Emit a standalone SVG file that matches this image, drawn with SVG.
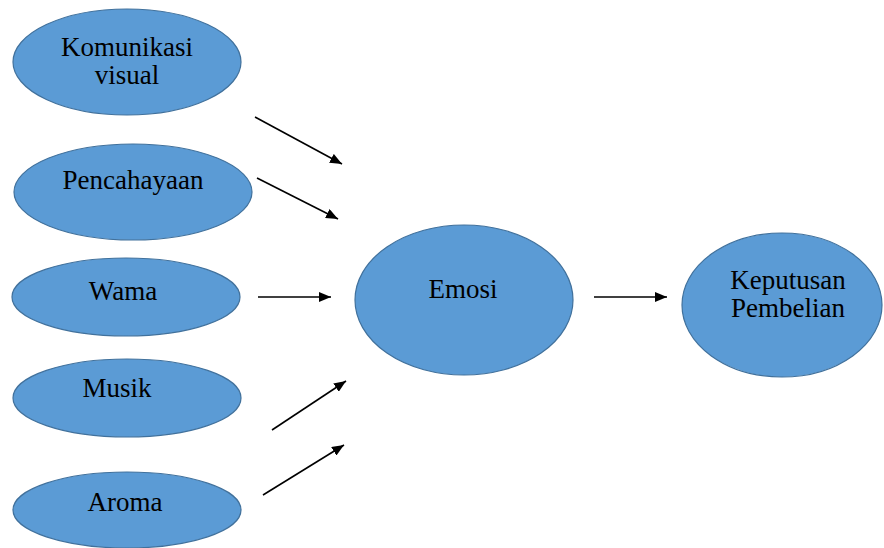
<svg xmlns="http://www.w3.org/2000/svg" width="884" height="548" viewBox="0 0 884 548">
<defs>
<style>
.node ellipse{fill:#5B9BD5;stroke:#41719C;stroke-width:1.2}
.node text{font-size:27px;fill:#000;text-anchor:middle}
.conn line{stroke:#000;stroke-width:1.6}
</style>
<marker id="ah2" viewBox="0 0 12 10" refX="12" refY="5" markerWidth="12" markerHeight="10" markerUnits="userSpaceOnUse" orient="auto"><path d="M0,0 L12,5 L0,10 z" fill="#000"/></marker>
</defs>
<rect width="884" height="548" fill="#fff"/>
<g font-family="'Liberation Serif', 'DejaVu Serif', serif">
<g id="komunikasi" class="node"><ellipse cx="127" cy="62" rx="114" ry="53"/><text x="127" y="56">Komunikasi</text><text x="127" y="84">visual</text></g>
<g id="pencahayaan" class="node"><ellipse cx="133" cy="192" rx="119" ry="48"/><text x="133" y="189">Pencahayaan</text></g>
<g id="warna" class="node"><ellipse cx="126" cy="297" rx="114" ry="39"/><text x="123" y="300">Wama</text></g>
<g id="musik" class="node"><ellipse cx="127" cy="398" rx="114" ry="39"/><text x="117" y="397">Musik</text></g>
<g id="aroma" class="node"><ellipse cx="127" cy="510" rx="114" ry="38"/><text x="125" y="511">Aroma</text></g>
<g id="emosi" class="node"><ellipse cx="464" cy="300" rx="109" ry="75"/><text x="463" y="298">Emosi</text></g>
<g id="keputusan" class="node"><ellipse cx="782" cy="305" rx="100" ry="72"/><text x="788" y="289">Keputusan</text><text x="788" y="317">Pembelian</text></g>
</g>
<g id="connectors" class="conn">
<line x1="255" y1="117" x2="342" y2="164" marker-end="url(#ah2)"/>
<line x1="257" y1="178" x2="338" y2="219" marker-end="url(#ah2)"/>
<line x1="258" y1="297" x2="331" y2="297" marker-end="url(#ah2)"/>
<line x1="272" y1="430" x2="346" y2="381" marker-end="url(#ah2)"/>
<line x1="263" y1="495" x2="344" y2="445" marker-end="url(#ah2)"/>
<line x1="594" y1="297" x2="667" y2="297" marker-end="url(#ah2)"/>
</g>
</svg>
